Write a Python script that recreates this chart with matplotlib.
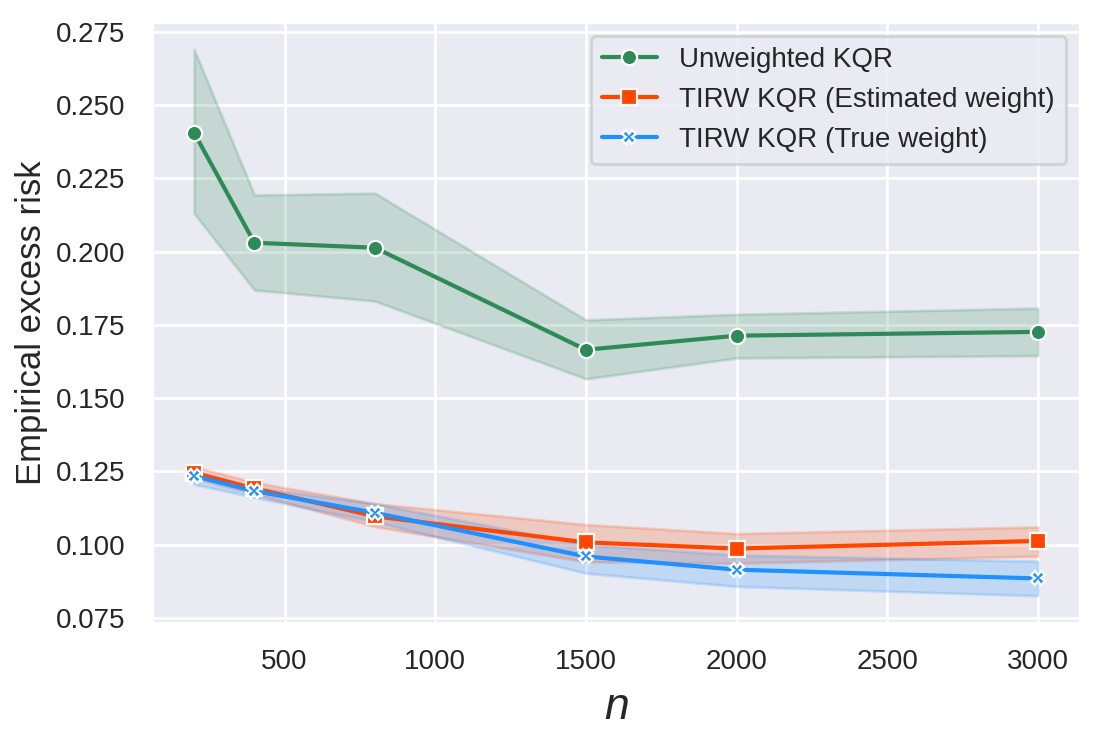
import numpy as np
import matplotlib
matplotlib.use("Agg")
import matplotlib.pyplot as plt
import seaborn as sns

sns.set_theme(style="darkgrid")
plt.rcParams['font.family'] = ['Liberation Sans', 'DejaVu Sans']
plt.rcParams['mathtext.fontset'] = 'custom'
plt.rcParams['mathtext.it'] = 'Liberation Sans:italic'
plt.rcParams['mathtext.rm'] = 'Liberation Sans'

n_vals = [200, 400, 800, 1500, 2000, 3000]

unw_mean = [0.2405, 0.2030, 0.2013, 0.1665, 0.1713, 0.1726]
unw_low = [0.2130, 0.1869, 0.1831, 0.1566, 0.1637, 0.1645]
unw_high = [0.2689, 0.2193, 0.2199, 0.1767, 0.1786, 0.1807]

est_mean = [0.1245, 0.1192, 0.1097, 0.1008, 0.0987, 0.1013]
est_low = [0.1227, 0.1173, 0.1062, 0.0942, 0.0937, 0.0961]
est_high = [0.1266, 0.1213, 0.1140, 0.1069, 0.1038, 0.1061]

true_mean = [0.1234, 0.1183, 0.1109, 0.0960, 0.0915, 0.0885]
true_low = [0.1206, 0.1162, 0.1078, 0.0903, 0.0858, 0.0826]
true_high = [0.1253, 0.1196, 0.1140, 0.1000, 0.0965, 0.0944]

series = [
    ("Unweighted KQR", unw_mean, unw_low, unw_high, "seagreen", "o", 5.5),
    ("TIRW KQR (Estimated weight)", est_mean, est_low, est_high, "orangered", "s", 5.5),
    ("TIRW KQR (True weight)", true_mean, true_low, true_high, "dodgerblue", "X", 5),
]

fig, ax = plt.subplots(figsize=(5.505, 3.7), dpi=200)
fig.subplots_adjust(left=0.138, right=0.981, top=0.970, bottom=0.158)

for label, m, lo, hi, col, mk, ms in series:
    ax.fill_between(n_vals, lo, hi, color=col, alpha=0.2, linewidth=1)
    ax.plot(n_vals, m, color=col, marker=mk, markersize=ms, lw=1.5,
            markeredgecolor="white", markeredgewidth=0.8, label=label)

ax.set_yticks([0.075, 0.100, 0.125, 0.150, 0.175, 0.200, 0.225, 0.250, 0.275])
ax.set_xticks([500, 1000, 1500, 2000, 2500, 3000])
ax.tick_params(labelsize=10)
ax.set_xlabel("$n$", fontsize=16)
ax.set_ylabel("Empirical excess risk", fontsize=12.5, labelpad=3)
ax.legend(loc="upper right", fontsize=10)

fig.savefig("out.png", dpi=200)
